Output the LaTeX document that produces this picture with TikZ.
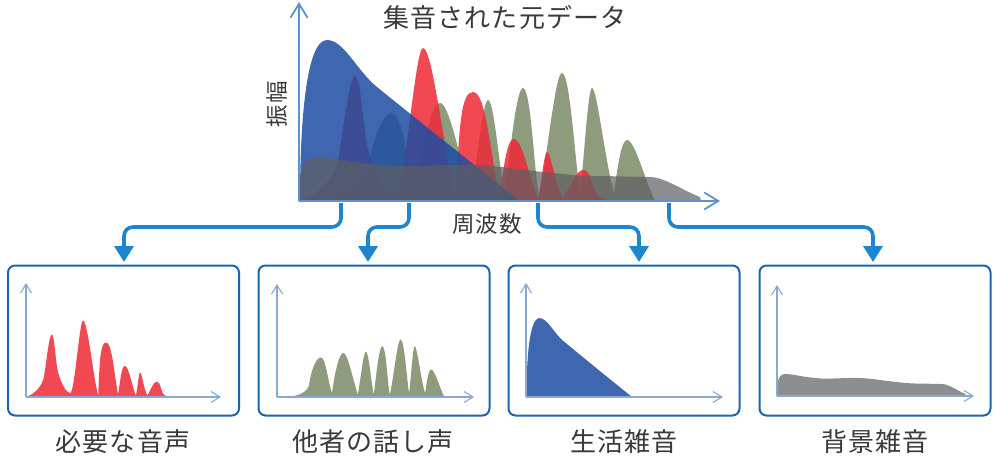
\documentclass[tikz,border=0pt]{standalone}
\usepackage{fontspec}
\usetikzlibrary{arrows.meta}
\newfontfamily\cjk[LetterSpace=4.5]{Noto Sans CJK JP}
\definecolor{cred}{HTML}{EE2A37}
\definecolor{cgreen}{HTML}{8E9B7D}
\definecolor{cblue}{HTML}{1E4DA2}
\definecolor{cgray}{HTML}{5E5F63}
\definecolor{cflow}{HTML}{1C87CF}
\definecolor{cframe}{HTML}{1A66AE}
\definecolor{caxis}{HTML}{5C93CF}
\definecolor{caxislight}{HTML}{86A9D6}
\definecolor{ctext}{HTML}{3A3A3A}
\def\redpath{(0,0) .. controls (15,5) and (30,15) .. (38,36)
 .. controls (44,65) and (50,125) .. (56,125)
 .. controls (62,125) and (64,70) .. (70,48)
 .. controls (78,24) and (88,8) .. (96,8)
 .. controls (106,8) and (116,153) .. (124,153)
 .. controls (134,153) and (146,40) .. (157,3)
 .. controls (160,75) and (162,109) .. (174,109)
 .. controls (186,109) and (190,60) .. (200,5)
 .. controls (205,30) and (207,62) .. (215,62)
 .. controls (224,62) and (232,15) .. (239,3)
 .. controls (243,20) and (245,49) .. (248,49)
 .. controls (252,49) and (256,15) .. (264,3)
 .. controls (270,12) and (277,31) .. (284,31)
 .. controls (294,31) and (292,8) .. (302,3)
 .. controls (308,1) and (314,0) .. (325,0) -- cycle}
\def\greenpath{(15,0) .. controls (40,1) and (60,6) .. (68,25)
 .. controls (72,60) and (84,88) .. (93,88)
 .. controls (104,88) and (108,35) .. (117,8)
 .. controls (122,50) and (132,98) .. (141,98)
 .. controls (150,98) and (160,45) .. (172,5)
 .. controls (178,40) and (184,101) .. (189,101)
 .. controls (195,101) and (200,35) .. (206,5)
 .. controls (212,60) and (218,113) .. (224,113)
 .. controls (232,113) and (235,30) .. (240,5)
 .. controls (248,40) and (256,128) .. (263,128)
 .. controls (271,128) and (276,40) .. (281,8)
 .. controls (285,40) and (289,113) .. (293,113)
 .. controls (298,113) and (306,40) .. (315,8)
 .. controls (318,30) and (322,61) .. (328,61)
 .. controls (336,61) and (346,20) .. (356,0) -- cycle}
\def\bluepath{(1,0) .. controls (1,70) and (6,161) .. (28,161)
 .. controls (45,161) and (58,130) .. (78,114)
 .. controls (110,88) and (170,40) .. (221,0) -- cycle}
\def\graypath{(0,0) .. controls (0,30) and (2,44) .. (19,44)
 .. controls (35,44) and (50,38) .. (94,35)
 .. controls (120,34) and (150,37) .. (178,36)
 .. controls (200,35) and (225,31) .. (244,29)
 .. controls (265,27) and (280,25) .. (294,25)
 .. controls (315,25) and (335,24) .. (351,24)
 .. controls (365,24) and (385,10) .. (401,4) -- (402,0) -- cycle}
\tikzset{
 x=1pt,y=-1pt,
 panel/.style={draw=cframe,line width=2pt,rounded corners=7pt,fill=white,inner sep=0pt,minimum width=231pt,minimum height=150pt},
 flow/.style={draw=cflow,line width=3.6pt,rounded corners=9pt,-{Triangle[width=19pt,length=16pt]}},
 mainaxis/.style={draw=caxis,line width=1.8pt,-{Straight Barb[length=14pt,width=17pt,line width=1.8pt]}},
 subaxis/.style={draw=caxislight,line width=1.1pt,-{Straight Barb[length=9pt,width=11pt,line width=1.1pt]}},
 heading/.style={inner sep=0pt,text=ctext,font=\cjk\fontsize{26}{26}\selectfont},
 axislabel/.style={inner sep=0pt,text=ctext,font=\cjk\fontsize{22.5}{23}\selectfont},
 caption/.style={inner sep=0pt,text=ctext,font=\cjk\fontsize{26}{26}\selectfont},
}
\begin{document}
\begin{tikzpicture}
\useasboundingbox (0,0) rectangle (1000,456);
\fill[white] (0,0) rectangle (1000,456);
% main chart
\begin{scope}[shift={(299,201)},yscale=-1]
 \fill[cgreen] \greenpath;
 \fill[cred,opacity=.85] \redpath;
 \fill[cblue,opacity=.85] \bluepath;
 \fill[cgray,opacity=.7] \graypath;
\end{scope}
\coordinate (o) at (299,201);
\coordinate (ytop) at (299,2);
\coordinate (xend) at (720,201);
\draw[mainaxis] (o) -- (ytop);
\draw[mainaxis] (o) -- (xend);
\node[heading] (title) at (505,17) {集音された元データ};
\node[axislabel] (xlab) at (487,224) {周波数};
\node[axislabel,rotate=90] (ylab) at (277,104) {振幅};
% panels
\node[panel] (p1) at (123.5,340.5) {};
\node[panel] (p2) at (374,340.5) {};
\node[panel] (p3) at (624,340.5) {};
\node[panel] (p4) at (875,340.5) {};
% small charts
\begin{scope}[shift={(26,397)},xscale=.46,yscale=-.5]
 \fill[cred,opacity=.85] \redpath;
\end{scope}
\begin{scope}[shift={(277,397)},xscale=.47,yscale=-.45]
 \fill[cgreen] \greenpath;
\end{scope}
\begin{scope}[shift={(526,397)},xscale=.48,yscale=-.49]
 \fill[cblue,opacity=.85] \bluepath;
\end{scope}
\begin{scope}[shift={(777,396)},xscale=.47,yscale=-.5]
 \fill[cgray,opacity=.7] \graypath;
\end{scope}
% small axes
\coordinate (o1) at (26,397); \coordinate (y1) at (26,283); \coordinate (x1) at (221,397);
\coordinate (o2) at (277,397); \coordinate (y2) at (277,284); \coordinate (x2) at (474,397);
\coordinate (o3) at (526,397); \coordinate (y3) at (526,283); \coordinate (x3) at (723,397);
\coordinate (o4) at (777,396); \coordinate (y4) at (777,285); \coordinate (x4) at (974,396);
\foreach \i in {1,2,3,4}{
 \draw[subaxis] (o\i) -- (y\i);
 \draw[subaxis] (o\i) -- (x\i);
}
% captions
\node[caption] (c1) at (123,442) {必要な音声};
\node[caption] (c2) at (373,442) {他者の話し声};
\node[caption] (c3) at (624,442) {生活雑音};
\node[caption] (c4) at (875,442) {背景雑音};
% connectors
\coordinate (s1) at (341,203); \coordinate (t1) at (124,262);
\coordinate (s2) at (409,203); \coordinate (t2) at (368,262);
\coordinate (s3) at (538,203); \coordinate (t3) at (639,262);
\coordinate (s4) at (669,203); \coordinate (t4) at (873,262);
\coordinate (h) at (0,227);
\foreach \i in {1,2,3,4}{
 \draw[flow] (s\i) -- (s\i |- h) -- (t\i |- h) -- (t\i);
}
\end{tikzpicture}
\end{document}
